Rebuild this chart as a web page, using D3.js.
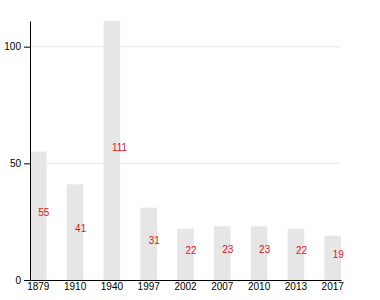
<!DOCTYPE html>
<html>
<head>
<meta charset="utf-8">
<script src="https://cdn.jsdelivr.net/npm/d3@7"></script>
<style>
  body { margin: 0; background: #fff; }
  svg { display: block; font-family: "Liberation Sans", Arial, sans-serif; }
  .axis text { font-size: 10px; fill: #000; }
  .axis path, .axis line { stroke: #000; }
</style>
</head>
<body>
<div id="chart-area"></div>
<script>
// data
var years = ["1879", "1910", "1940", "1997", "2002", "2007", "2010", "2013", "2017"];
var counts = [55, 41, 111, 31, 22, 23, 23, 22, 19];
var yTicks = [0, 50, 100];

var margin = { left: 30, right: 39, top: 21, bottom: 20 },
  width = 380 - margin.left - margin.right,
  height = 300 - margin.top - margin.bottom;

var svg = d3.select("#chart-area").append("svg")
  .attr("width", 380)
  .attr("height", 300);

var g = svg.append("g")
  .attr("transform", "translate(" + margin.left + "," + margin.top + ")");

var data = years.map(function(d, i) { return { year: d, value: counts[i] }; });

// Scales
var x = d3.scaleBand()
  .domain(years)
  .range([0, width])
  .paddingInner(0.55)
  .paddingOuter(0);

var y = d3.scaleLinear()
  .domain([0, d3.max(counts)])
  .range([height, 0]);

// Grid lines
g.selectAll(".grid")
  .data(yTicks.filter(function(d) { return d > 0; }))
  .enter().append("line")
  .attr("class", "grid")
  .attr("x1", 0)
  .attr("x2", width - 1)
  .attr("y1", function(d) { return y(d); })
  .attr("y2", function(d) { return y(d); })
  .attr("stroke", "#e6e6e6")
  .attr("stroke-width", 1);

// Bars
g.selectAll(".bar")
  .data(data)
  .enter().append("rect")
  .attr("class", "bar")
  .attr("x", function(d) { return x(d.year); })
  .attr("y", function(d) { return y(d.value); })
  .attr("width", x.bandwidth())
  .attr("height", function(d) { return height - y(d.value); })
  .attr("fill", "#e6e6e6");

// Value labels
g.selectAll(".label")
  .data(data)
  .enter().append("text")
  .attr("class", "label")
  .attr("x", function(d) { return x(d.year) + x.bandwidth() / 2; })
  .attr("y", function(d) { return (y(d.value) + height) / 2; })
  .attr("font-size", "10px")
  .attr("fill", "#e8101e")
  .text(function(d) { return d.value; });

// Axes
g.append("g")
  .attr("class", "x axis")
  .attr("transform", "translate(0," + height + ")")
  .call(d3.axisBottom(x).tickSize(0).tickPadding(3));

g.append("g")
  .attr("class", "y axis")
  .call(d3.axisLeft(y).tickValues(yTicks).tickSizeOuter(0));
</script>
</body>
</html>
